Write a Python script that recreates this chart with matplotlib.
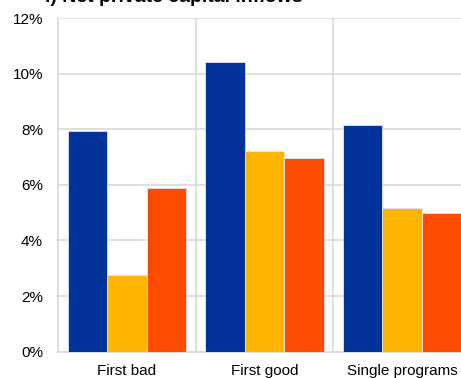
import matplotlib
matplotlib.use("Agg")
import matplotlib.pyplot as plt
import numpy as np

plt.rcParams['font.family'] = ['Liberation Sans', 'DejaVu Sans']

categories = ["First bad", "First good", "Single programs"]
series_a = [7.95, 10.42, 8.16]
series_b = [2.76, 7.23, 5.15]
series_c = [5.90, 6.96, 4.97]
colors = ["#003299", "#FFB400", "#FF4B00"]
yticks = [0, 2, 4, 6, 8, 10, 12]
title = "i) Net private capital inflows"

W, H = 461, 378
fig = plt.figure(figsize=(W / 100, H / 100), dpi=100)
ax_left, ax_right = 58, 471
ax_top, ax_bottom = 18, 351.7
ax = fig.add_axes([ax_left / W, (H - ax_bottom) / H,
                   (ax_right - ax_left) / W, (ax_bottom - ax_top) / H])

x = np.arange(len(categories))
bw = 0.286
for i, (vals, c) in enumerate(zip([series_a, series_b, series_c], colors)):
    ax.bar(x + (i - 1) * bw, vals, width=bw, color=c, edgecolor="#dfe6f3",
           linewidth=0.6, zorder=3)

ax.set_xlim(-0.5, len(categories) - 0.5)
ax.set_ylim(0, 12)
ax.set_yticks(yticks)
ax.set_yticklabels([f"{t}%" for t in yticks], fontsize=11)
ax.set_xticks(x)
ax.set_xticklabels(categories, fontsize=11)
ax.tick_params(axis="both", length=0, colors="#000000")
ax.tick_params(axis="y", pad=10.8)
ax.tick_params(axis="x", pad=9)
ax.yaxis.grid(True, color="#d9d9d9", linewidth=1.2, zorder=0)
for b in np.arange(0.5, len(categories) - 0.5, 1.0):
    ax.axvline(b, color="#d9d9d9", linewidth=1.2, zorder=0)
for s in ["top", "right"]:
    ax.spines[s].set_visible(False)
for s in ["left", "bottom"]:
    ax.spines[s].set_color("#d9d9d9")
    ax.spines[s].set_linewidth(1.2)

fig.text(45 / W, 1 - 2.5 / H, title, fontsize=14, fontweight="bold",
         ha="left", va="baseline")

fig.savefig("out.png", dpi=100)
